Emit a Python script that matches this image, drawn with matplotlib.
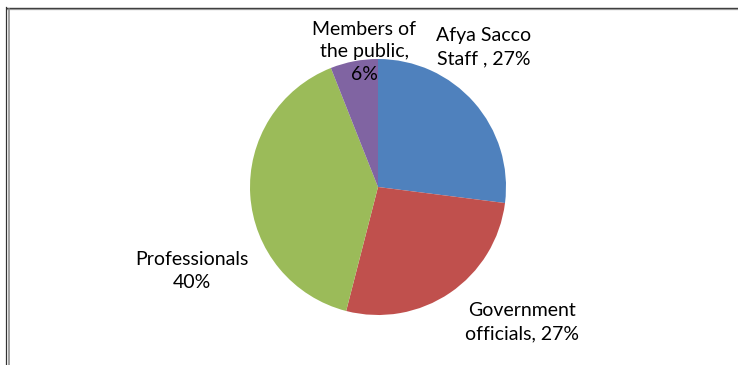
import matplotlib.pyplot as plt
from matplotlib.lines import Line2D

plt.rcParams['font.family'] = ['Lato', 'DejaVu Sans']

# share of respondents by category
categories = ["Afya Sacco\nStaff", "Government\nofficials", "Professionals", "Members of\nthe public"]
shares = [27, 27, 40, 6]
separators = [" , ", ", ", "\n", ",\n"]
colors = ["#4F81BD", "#C0504D", "#9BBB59", "#8064A2"]

# label anchor points in pixel space (y measured from the top)
label_pos = [(484, 47), (522, 322), (192, 271), (364, 52)]

W, H = 738, 365
fig = plt.figure(figsize=(W / 100, H / 100), dpi=100)
ax = fig.add_axes([0, 0, 1, 1])

cx, cy, r = 378, H - 187, 128
ax.pie(shares, colors=colors, startangle=90, counterclock=False,
       center=(cx, cy), radius=r, frame=True)
ax.set_xlim(0, W)
ax.set_ylim(0, H)
ax.set_aspect('equal')
ax.axis('off')

for cat, val, sep, (lx, ly) in zip(categories, shares, separators, label_pos):
    ax.text(lx, H - ly, f"{cat}{sep}{val}%", ha='center', va='center',
            fontsize=14, color='black', linespacing=1.42)

# page frame: top rule and double left rule
fig.add_artist(Line2D([7 / W, 1], [1 - 7.5 / H, 1 - 7.5 / H], color='#333333', lw=1.0))
fig.add_artist(Line2D([7 / W, 1], [1 - 8.7 / H, 1 - 8.7 / H], color='#999999', lw=0.9))
fig.add_artist(Line2D([6.5 / W, 6.5 / W], [0, 1 - 7 / H], color='#333333', lw=0.9))
fig.add_artist(Line2D([9 / W, 9 / W], [0, 1 - 8.5 / H], color='#888888', lw=1.1))

fig.savefig("out.png", dpi=100)
